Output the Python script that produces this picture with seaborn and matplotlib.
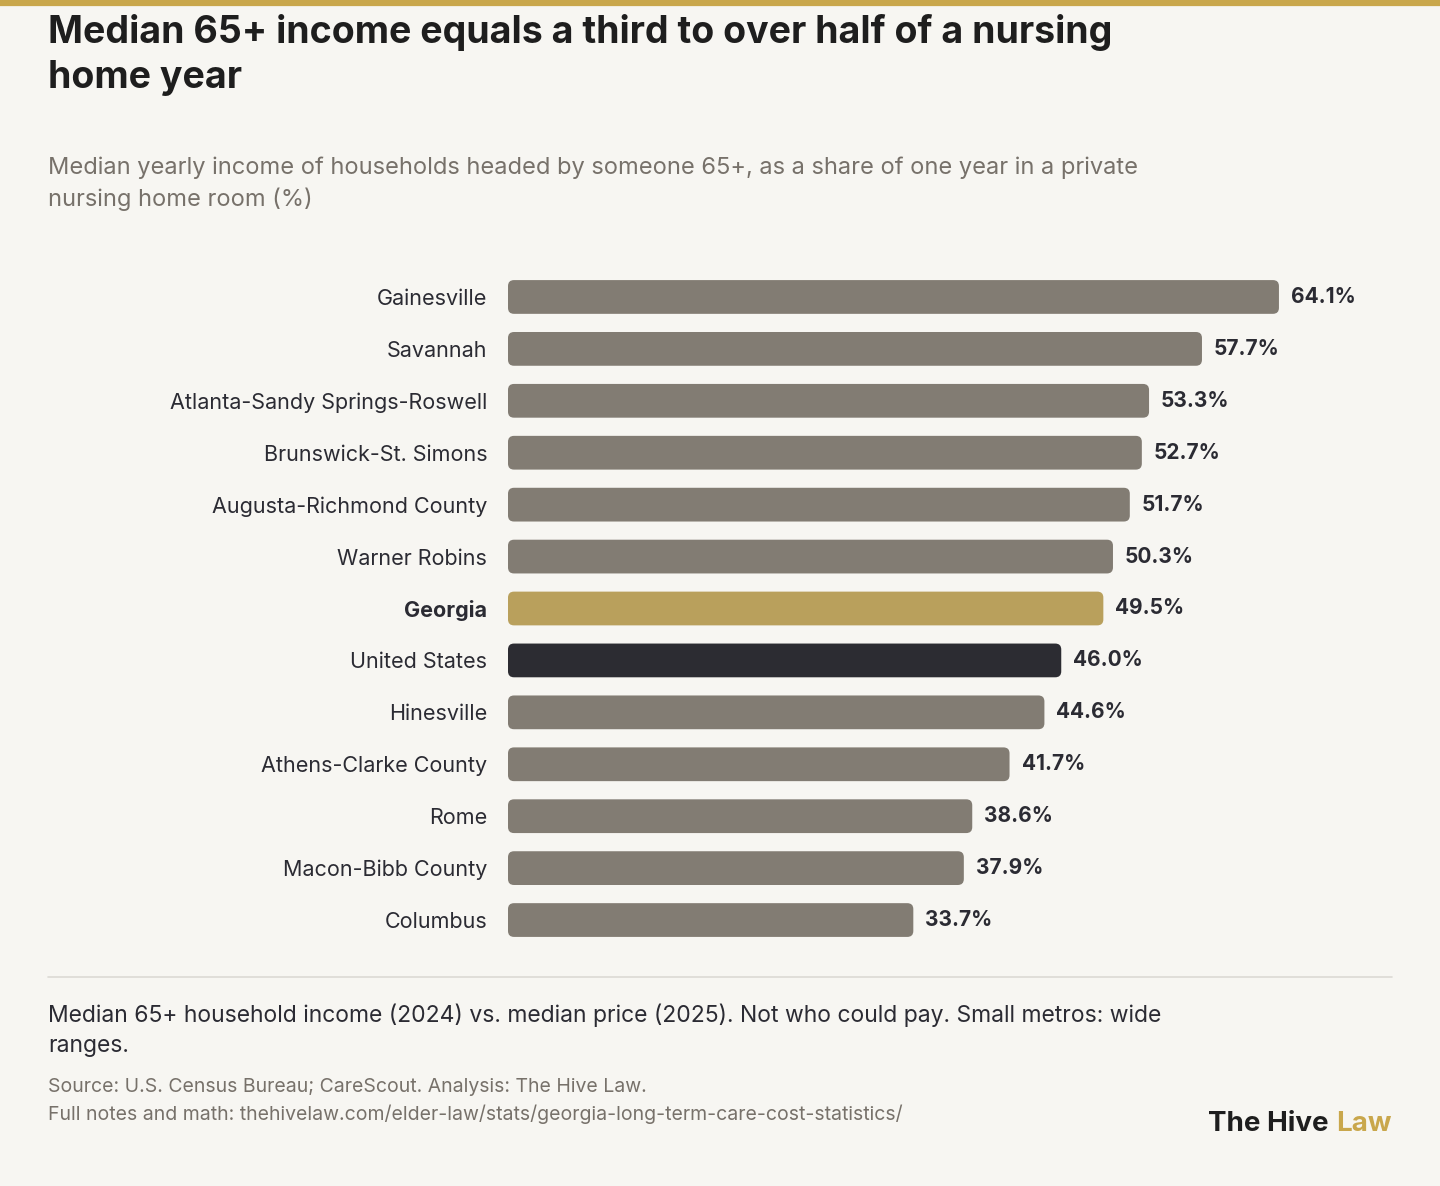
import matplotlib
matplotlib.use("Agg")
import matplotlib.pyplot as plt
import seaborn as sns
import pandas as pd
from matplotlib.patches import FancyBboxPatch
from matplotlib.lines import Line2D

cities = ["Gainesville", "Savannah", "Atlanta-Sandy Springs-Roswell", "Brunswick-St. Simons",
          "Augusta-Richmond County", "Warner Robins", "Georgia", "United States", "Hinesville",
          "Athens-Clarke County", "Rome", "Macon-Bibb County", "Columbus"]
values = [64.1, 57.7, 53.3, 52.7, 51.7, 50.3, 49.5, 46.0, 44.6, 41.7, 38.6, 37.9, 33.7]
GREY, GOLD, DARK = "#857d70", "#c9a74c", "#2b2b33"
colors = [GOLD if c == "Georgia" else DARK if c == "United States" else GREY for c in cities]
BG = "#f7f6f2"

sns.set_theme(style="white")
plt.rcParams["font.family"] = ["Inter", "DejaVu Sans"]

fig = plt.figure(figsize=(14.4, 11.86), dpi=100, facecolor=BG)
ax = fig.add_axes([508/1440, 1-946/1186, 884/1440, 675/1186], facecolor=BG)
df = pd.DataFrame({"city": cities, "value": values})
sns.barplot(data=df, y="city", x="value", hue="city", palette=colors, legend=False,
            width=0.65, ax=ax, orient="h")
for p in list(ax.patches):
    x, y, w, h = p.get_x(), p.get_y(), p.get_width(), p.get_height()
    fc = p.get_facecolor()
    p.remove()
    ax.add_patch(FancyBboxPatch((x, y), w, h, boxstyle="round,pad=0,rounding_size=0.5",
                                mutation_aspect=0.23, fc=fc, ec="none"))
for i, v in enumerate(values):
    ax.text(v + 1.0, i, f"{v:.1f}%", va="center", ha="left", fontsize=15,
            fontweight="bold", color="#2b2b33")
ax.set_xlim(0, 73.5)
ax.set_ylim(len(cities) - 0.5, -0.5)
ax.set_xlabel(""); ax.set_ylabel("")
ax.set_xticks([])
ax.tick_params(axis="y", length=0, pad=15, labelsize=15.5, labelcolor="#2b2b33")
for lbl in ax.get_yticklabels():
    if lbl.get_text() == "Georgia":
        lbl.set_fontweight("bold")
sns.despine(ax=ax, left=True, bottom=True)

fig.add_artist(Line2D([0, 1], [1-2.5/1186]*2, color="#c9a74c", lw=4.5))
fig.text(48/1440, 1-55/1186, "Median 65+ income equals a third to over half of a nursing\nhome year",
         fontsize=27, fontweight="bold", color="#1e1e1e", va="center", ha="left", linespacing=1.35)
fig.text(48/1440, 1-184/1186, "Median yearly income of households headed by someone 65+, as a share of one year in a private\nnursing home room (%)",
         fontsize=17, color="#77716a", va="center", ha="left", linespacing=1.45)
fig.add_artist(Line2D([48/1440, 1392/1440], [1-977/1186]*2, color="#dcdad4", lw=1.2))
fig.text(48/1440, 1-1030/1186, "Median 65+ household income (2024) vs. median price (2025). Not who could pay. Small metros: wide\nranges.",
         fontsize=16.5, color="#2b2b33", va="center", ha="left", linespacing=1.45)
fig.text(48/1440, 1-1101/1186, "Source: U.S. Census Bureau; CareScout. Analysis: The Hive Law.\nFull notes and math: thehivelaw.com/elder-law/stats/georgia-long-term-care-cost-statistics/",
         fontsize=14, color="#77716a", va="center", ha="left", linespacing=1.5)
t = fig.text(1392/1440, 1-1124/1186, "Law", fontsize=20, fontweight="bold", color=GOLD, ha="right", va="center")
fig.text(1335/1440, 1-1124/1186, "The Hive ", fontsize=20, fontweight="bold", color="#1e1e1e", ha="right", va="center")

fig.savefig("out.png", dpi=100, facecolor=BG)
